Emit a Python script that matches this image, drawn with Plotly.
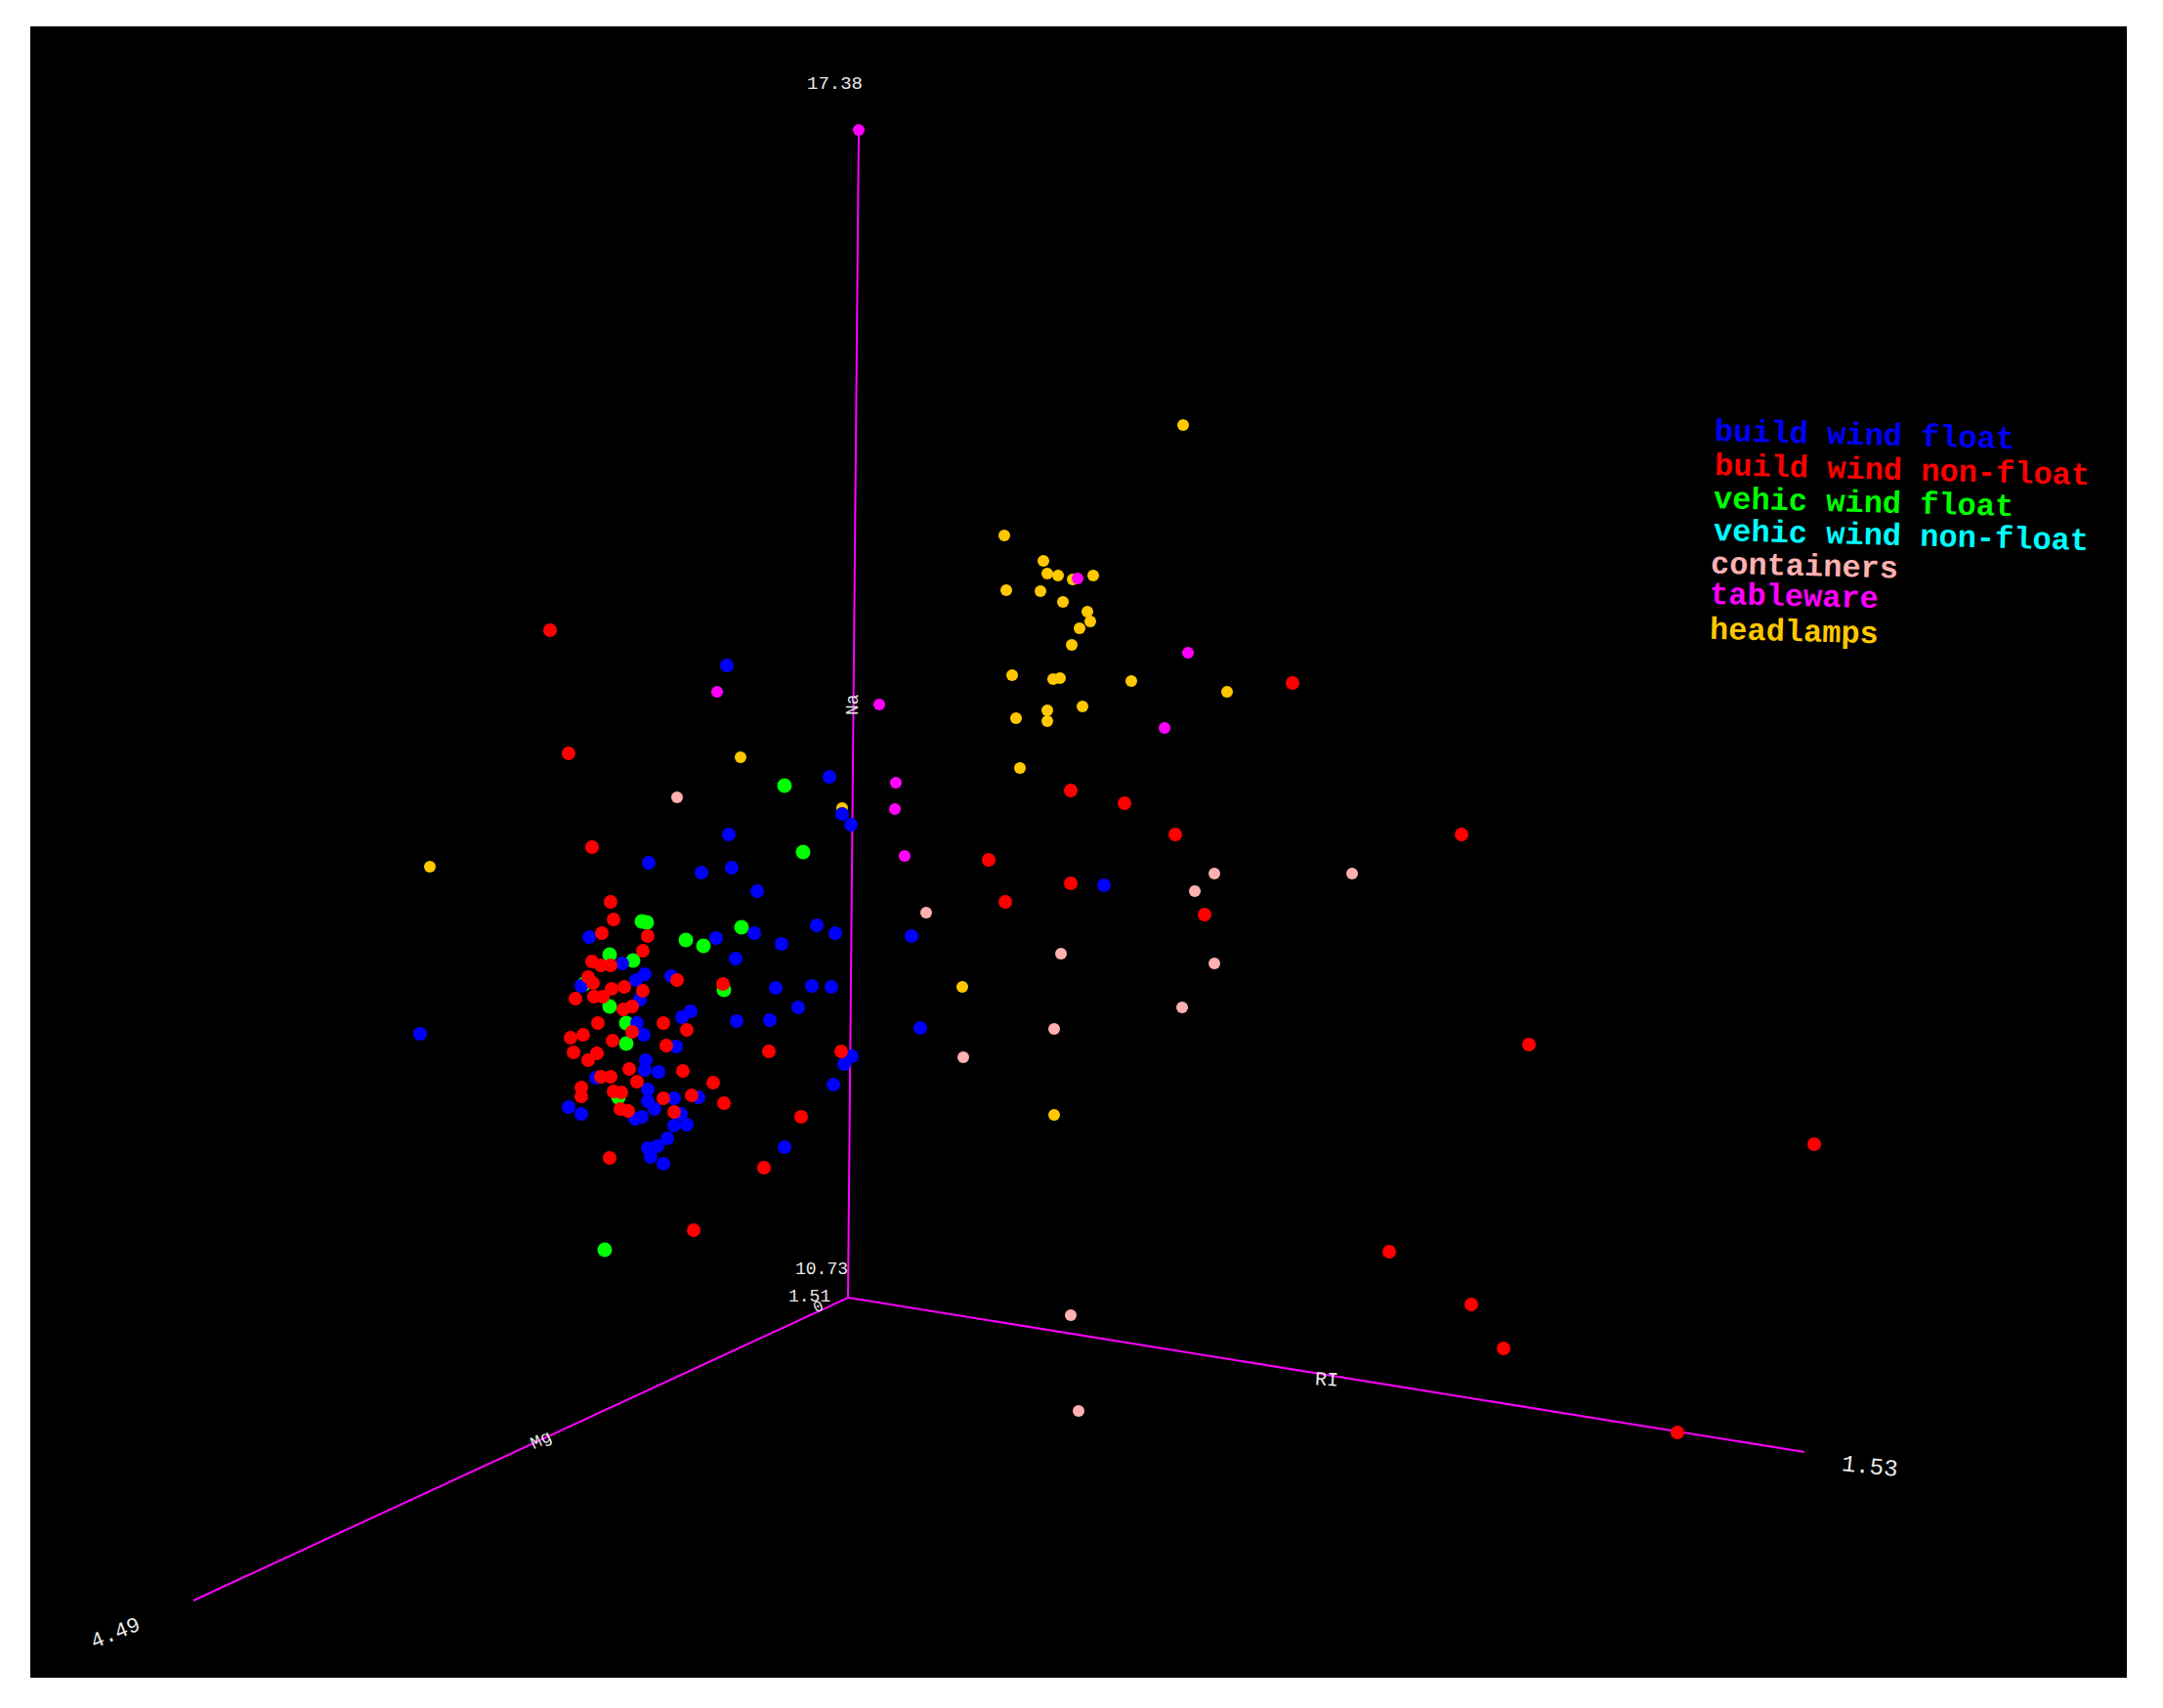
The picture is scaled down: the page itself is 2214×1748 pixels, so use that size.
import plotly.graph_objects as go

blue_x = [746, 664, 718, 749, 775, 603, 836, 855, 772, 733, 800, 933, 753, 637, 660, 651, 687, 595, 794, 831,
          851, 655, 817, 707, 698, 754, 788, 652, 659, 942, 692, 872, 864, 661, 660, 674, 610, 853, 663, 663,
          670, 690, 715, 582, 595, 650, 657, 697, 690, 703, 683, 673, 663, 666, 679, 803, 744, 430, 849, 862,
          871, 1130]
blue_y = [854, 883, 893, 888, 912, 959, 947, 955, 955, 960, 966, 958, 981, 986, 997, 1003, 999, 1009, 1011, 1009,
          1010, 1023, 1031, 1035, 1041, 1045, 1044, 1047, 1059, 1052, 1071, 1081, 1089, 1085, 1095, 1097, 1103, 1110, 1115, 1127,
          1135, 1124, 1123, 1133, 1140, 1145, 1143, 1140, 1152, 1151, 1165, 1173, 1175, 1184, 1191, 1174, 681, 1058, 795, 833,
          844, 906]

red_x = [606, 625, 628, 616, 663, 658, 606, 615, 625, 602, 607, 693, 740, 639, 626, 658, 589, 608, 617, 638,
         647, 612, 679, 703, 647, 597, 584, 627, 682, 587, 611, 602, 787, 861, 644, 699, 615, 625, 652, 730,
         595, 595, 628, 636, 679, 708, 741, 635, 643, 690, 820, 624, 782, 563, 582, 710, 1323, 1096, 1151, 1203,
         1496, 1012, 1096, 1029, 1233, 1565, 1857, 1422, 1506, 1539, 1717]
red_y = [867, 923, 941, 955, 958, 973, 984, 988, 988, 1000, 1006, 1003, 1007, 1010, 1012, 1014, 1022, 1020, 1020, 1033,
         1030, 1047, 1047, 1054, 1056, 1059, 1062, 1065, 1070, 1077, 1078, 1085, 1076, 1076, 1094, 1096, 1102, 1102, 1107, 1108,
         1113, 1122, 1117, 1118, 1124, 1121, 1129, 1135, 1137, 1138, 1143, 1185, 1195, 645, 771, 1259, 699, 809, 822, 854,
         854, 880, 904, 923, 936, 1069, 1171, 1281, 1335, 1380, 1466]

green_x = [822, 662, 657, 759, 702, 720, 624, 648, 624, 641, 641, 741, 633, 598, 619, 803]
green_y = [872, 944, 943, 949, 962, 968, 977, 983, 1030, 1047, 1068, 1013, 1123, 1007, 1279, 804]

containers_x = [948, 986, 693, 1243, 1384, 1223, 1086, 1243, 1210, 1079, 1096, 1104]
containers_y = [934, 1082, 816, 894, 894, 912, 976, 986, 1031, 1053, 1346, 1444]

tableware_x = [926, 734, 900, 917, 916, 1103, 1216, 1192, 879]
tableware_y = [876, 708, 721, 801, 828, 592, 668, 745, 133]

headlamps_x = [1211, 1028, 1068, 1072, 1083, 1119, 1098, 1030, 1065, 1088, 1113, 1116, 1105, 1097, 1036, 1078, 1085, 1158,
               1256, 1108, 1040, 1072, 1072, 1044, 758, 862, 440, 985, 1079]
headlamps_y = [435, 548, 574, 587, 589, 589, 593, 604, 605, 616, 626, 636, 643, 660, 691, 695, 694, 697,
               708, 723, 735, 727, 738, 786, 775, 827, 887, 1010, 1141]

# axis lines, all three start at the same corner
axis_x = [879, 868, 1847, 868, 198]
axis_y = [133, 1328, 1486, 1328, 1638]

legend_labels = ["build wind float", "build wind non-float", "vehic wind float", "vehic wind non-float",
                 "containers", "tableware", "headlamps"]
legend_colours = ["#0000ff", "#ff0000", "#00ff00", "#00ffff", "#ffb0b0", "#ff00ff", "#ffc800"]
legend_x = [1908, 1947, 1907, 1946, 1847, 1836, 1836]
legend_y = [446, 482, 515, 549, 580, 611, 647]

axis_labels = ["17.38", "Na", "10.73", "1.51", "0", "Mg", "RI", "1.53", "4.49"]
label_x = [854, 873, 841, 828, 838, 554, 1358, 1914, 118]
label_y = [86, 721, 1299, 1327, 1338, 1474, 1412, 1501, 1672]
label_angle = [0, -90, 0, 0, -25, -25, 3, 6, -22]
label_size = [19, 18, 18, 18, 16, 18, 20, 24, 22]

fig = go.Figure()

fig.add_trace(go.Scatter(x=axis_x, y=axis_y, mode="lines", line=dict(color="#ff00ff", width=2)))

def add_points(xs, ys, colour, size):
    fig.add_trace(go.Scatter(x=xs, y=ys, mode="markers", marker=dict(color=colour, size=size, line=dict(width=0))))

add_points(headlamps_x, headlamps_y, "#ffc800", 12)
add_points(tableware_x, tableware_y, "#ff00ff", 12)
add_points(green_x, green_y, "#00ff00", 15)
add_points(blue_x, blue_y, "#0000ff", 14)
add_points(red_x, red_y, "#ff0000", 14)
add_points(containers_x, containers_y, "#ffb0b0", 12)

for i in range(len(legend_labels)):
    fig.add_annotation(x=legend_x[i], y=legend_y[i], text=legend_labels[i], showarrow=False, textangle=1.5,
                       font=dict(family="Liberation Mono", size=32, color=legend_colours[i], weight="bold"))

for i in range(len(axis_labels)):
    fig.add_annotation(x=label_x[i], y=label_y[i], text=axis_labels[i], showarrow=False, textangle=label_angle[i],
                       font=dict(family="Liberation Mono", size=label_size[i], color="#e8e8e8"))

# the page has an 8px body margin, so the figure is kept 16px smaller than the window
fig.update_layout(
    width=2198, height=1732,
    margin=dict(l=23, r=29, t=19, b=23),
    paper_bgcolor="white", plot_bgcolor="black",
    showlegend=False,
    xaxis=dict(range=[31, 2177], visible=False),
    yaxis=dict(range=[1717, 27], visible=False),
)

fig.write_html("out.html")
